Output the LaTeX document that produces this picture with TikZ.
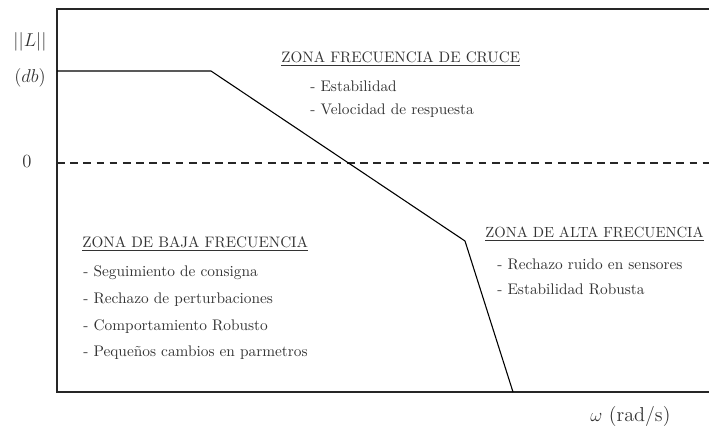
\documentclass[tikz,border=0pt]{standalone}
\usepackage{tikz}
\begin{document}
\begin{tikzpicture}[x=0.645pt,y=-0.645pt,
  txt/.style={anchor=base west,inner sep=0pt,text=black!80,font=\fontsize{9.9}{12}\selectfont},
  axlbl/.style={anchor=base,inner sep=0pt,text=black!80,font=\fontsize{12}{14}\selectfont},
  axis/.style={line width=0.7pt,black!85},
  curve/.style={line width=0.7pt,black}]
\useasboundingbox (0,0) rectangle (709,429);
% axes
\coordinate (tl) at (57,9);
\coordinate (tr) at (709,9);
\coordinate (bl) at (57,392);
\coordinate (br) at (709,392);
\draw[axis] (tr) -- (tl) -- (bl) -- (br);
% zero line
\coordinate (z0) at (57,163);
\coordinate (z1) at (709,163);
\draw[axis,dashed,dash pattern=on 5pt off 3.5pt] (z0) -- (z1);
% curve
\coordinate (c0) at (57,71);
\coordinate (c1) at (211,71);
\coordinate (c2) at (465,241);
\coordinate (c3) at (513,392);
\draw[curve] (c0) -- (c1) -- (c2) -- (c3);
% axis labels
\node[axlbl] (L) at (30,47) {$||L||$};
\node[axlbl] (db) at (30,83) {$(db)$};
\node[axlbl] (zero) at (27,168) {$0$};
\node[axlbl,anchor=base west,font=\fontsize{13}{15}\selectfont] (w) at (590,422) {$\omega$ (rad/s)};
% cruce
\node[txt,font=\fontsize{9.8}{12}\selectfont] (h1) at (281,63) {\underline{ZONA FRECUENCIA DE CRUCE}};
\node[txt] (h1a) at (310,92) {- Estabilidad};
\node[txt] (h1b) at (310,115) {- Velocidad de respuesta};
% baja
\node[txt,font=\fontsize{9.8}{12}\selectfont] (h2) at (82,248) {\underline{ZONA DE BAJA FRECUENCIA}};
\node[txt] (h2a) at (83,277) {- Seguimiento de consigna};
\node[txt] (h2b) at (83,304) {- Rechazo de perturbaciones};
\node[txt] (h2c) at (83,331) {- Comportamiento Robusto};
\node[txt] (h2d) at (83,357) {- Pequeños cambios en parmetros};
% alta
\node[txt,font=\fontsize{9.5}{12}\selectfont] (h3) at (485,238) {\underline{ZONA DE ALTA FRECUENCIA}};
\node[txt] (h3a) at (497,270) {- Rechazo ruido en sensores};
\node[txt] (h3b) at (497,295) {- Estabilidad Robusta};
\end{tikzpicture}
\end{document}
